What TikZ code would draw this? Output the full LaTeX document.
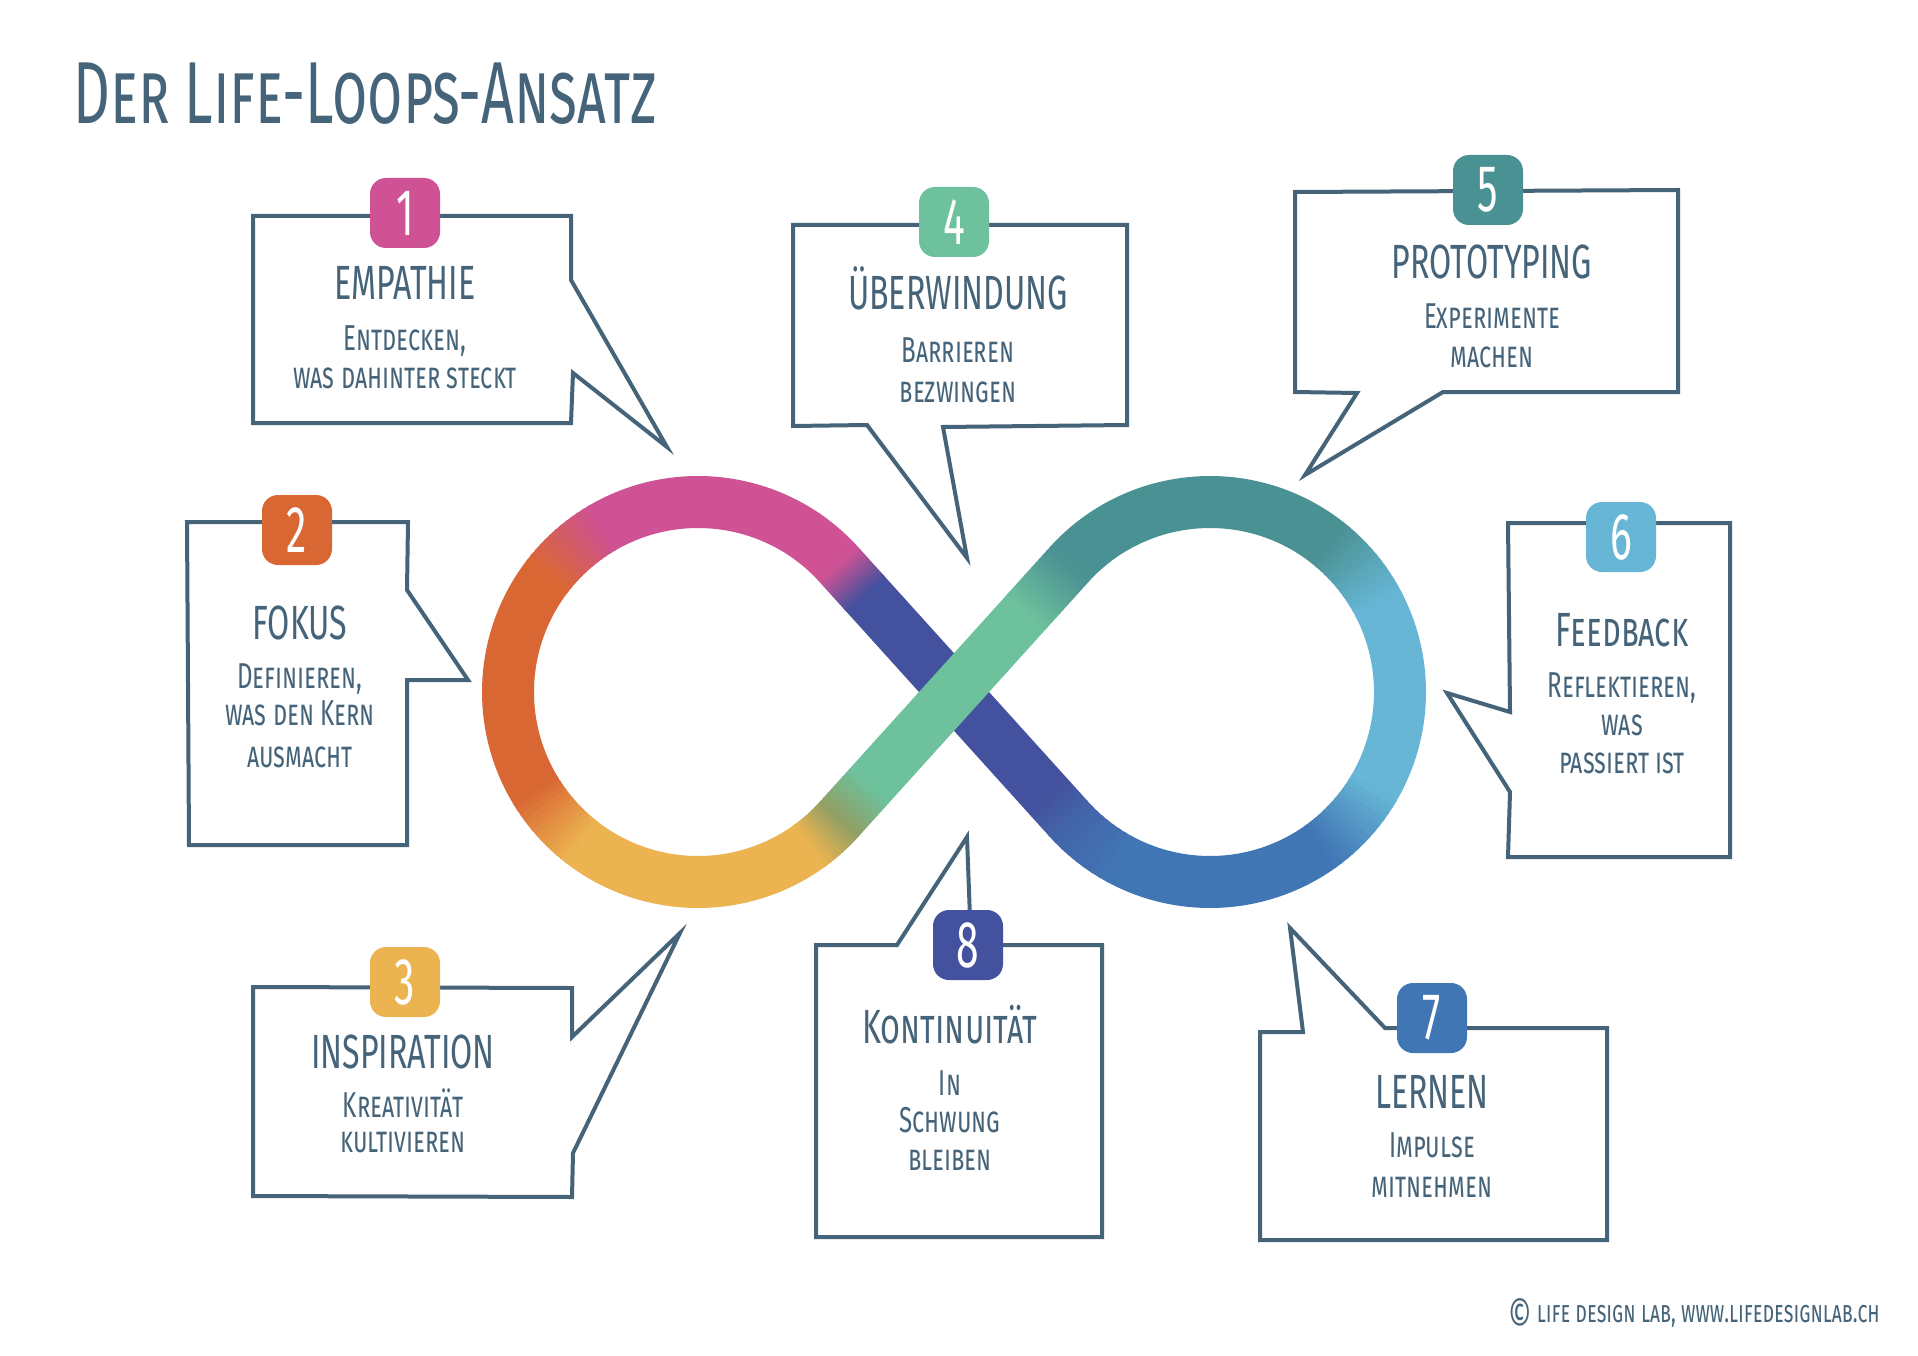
\documentclass[tikz,border=0pt]{standalone}
\usepackage{fontspec}
\setmainfont{Fira Sans}[FakeStretch=0.62]
\newfontfamily\titlefont{Fira Sans}[FakeStretch=0.65]
\newfontfamily\headfont{Fira Sans}[FakeStretch=0.67]
\newfontfamily\subfont{Fira Sans}[FakeStretch=0.67]
\newfontfamily\footfont{Fira Sans}[FakeStretch=0.66]
\usetikzlibrary{calc}
\definecolor{ink}{HTML}{45647A}
\definecolor{cPink}{HTML}{CE5294}
\definecolor{cOrange}{HTML}{D96734}
\definecolor{cYellow}{HTML}{ECB450}
\definecolor{cGreen}{HTML}{6DC19C}
\definecolor{cTeal}{HTML}{4A9193}
\definecolor{cLight}{HTML}{67B6D6}
\definecolor{cBlue}{HTML}{4176B5}
\definecolor{cIndigo}{HTML}{44519E}
\colorlet{cBM}{cBlue!50!cIndigo}
\colorlet{cYG}{cYellow!50!cGreen!85!black}
\newcommand{\ArcGrad}[7]{%
  \foreach \k in {1,...,#7}{%
    \pgfmathsetmacro\myA{#3+(#4-#3)*(\k-1)/#7}%
    \pgfmathsetmacro\myB{#3+(#4-#3)*\k/#7+((#4>#3)?0.8:-0.8)}%
    \pgfmathtruncatemacro\pp{100*(\k-0.5)/#7}%
    \draw[band, draw=#6!\pp!#5] (#1) ++(\myA:#2) arc[start angle=\myA, end angle=\myB, radius=#2];
  }}
\newcommand{\LineGrad}[5]{%
  \foreach \k in {1,...,#5}{%
    \pgfmathsetmacro\myA{(\k-1)/#5}%
    \pgfmathsetmacro\myB{\k/#5+0.02}%
    \pgfmathtruncatemacro\pp{100*(\k-0.5)/#5}%
    \draw[band, draw=#4!\pp!#3] ($(#1)!\myA!(#2)$) -- ($(#1)!\myB!(#2)$);
  }}
\begin{document}
\begin{tikzpicture}[x=1pt,y=-1pt,
  band/.style={line width=52pt, line cap=butt},
  bubble/.style={draw=ink, line width=4pt, line join=miter, fill=white},
  badge/.style={rectangle, rounded corners=16pt, minimum width=70pt, minimum height=70pt, inner sep=0pt, text=white, font=\fontsize{66}{66}\selectfont},
  head/.style={text=ink, inner sep=0pt, text height=33pt, text depth=0pt, font=\headfont\fontsize{48}{52}\selectfont},
  headsc/.style={head, font=\headfont\fontsize{48}{52}\selectfont\scshape},
  sub/.style={text=ink, inner sep=0pt, text height=21pt, text depth=0pt, font=\subfont\fontsize{36}{40}\selectfont\scshape},
]
\fill[white] (0,0) rectangle (1918,1356);
\useasboundingbox (0,0) rectangle (1918,1356);

% title
\node[text=ink, anchor=west, inner sep=0pt, text height=60pt, text depth=0pt, font=\titlefont\fontsize{88}{94}\selectfont\scshape] (title) at (73,94) {Der Life-Loops-Ansatz};

% infinity
\coordinate (Lc) at (698,692);
\coordinate (Rc) at (1210,692);
\coordinate (T1) at (839,564.7);
\coordinate (T2) at (839,819.3);
\coordinate (T3) at (1069,564.7);
\coordinate (T4) at (1069,819.3);
\coordinate (P1) at ($(T4)!30pt!(T1)$);
\coordinate (P2) at ($(T1)!40pt!(T4)$);
\coordinate (Q1) at ($(T2)!45pt!(T3)$);
\coordinate (Q2) at ($(T3)!65pt!(T2)$);

\ArcGrad{Rc}{190}{222.08}{308}{cTeal}{cTeal}{1}
\ArcGrad{Rc}{190}{308}{332}{cTeal}{cLight}{12}
\ArcGrad{Rc}{190}{332}{390}{cLight}{cLight}{1}
\ArcGrad{Rc}{190}{390}{414}{cLight}{cBlue}{12}
\ArcGrad{Rc}{190}{414}{478}{cBlue}{cBlue}{1}
\ArcGrad{Rc}{190}{478}{497.92}{cBlue}{cBM}{8}
\LineGrad{T4}{P1}{cBM}{cIndigo}{8}
\LineGrad{P1}{P2}{cIndigo}{cIndigo}{1}
\LineGrad{P2}{T1}{cIndigo}{cPink}{12}
\ArcGrad{Lc}{190}{317.92}{240}{cPink}{cPink}{1}
\ArcGrad{Lc}{190}{240}{218}{cPink}{cOrange}{12}
\ArcGrad{Lc}{190}{218}{149}{cOrange}{cOrange}{1}
\ArcGrad{Lc}{190}{149}{128}{cOrange}{cYellow}{12}
\ArcGrad{Lc}{190}{128}{54}{cYellow}{cYellow}{1}
\ArcGrad{Lc}{190}{54}{42.08}{cYellow}{cYG}{8}
\LineGrad{T2}{Q1}{cYG}{cGreen}{8}
\LineGrad{Q1}{Q2}{cGreen}{cGreen}{1}
\LineGrad{Q2}{T3}{cGreen}{cTeal}{12}

% bubbles
\draw[bubble] (253,216) -- (571,216) -- (571,280) -- (667,447) -- (573,373) -- (571,423) -- (253,423) -- cycle;
\draw[bubble] (187,522) -- (408,522) -- (407,590) -- (468,680) -- (407,680) -- (407,845) -- (189,845) -- cycle;
\draw[bubble] (253,987) -- (572,988) -- (572,1037) -- (680,933) -- (573,1153) -- (572,1197) -- (253,1196) -- cycle;
\draw[bubble] (793,225) -- (1127,225) -- (1127,425) -- (943,427) -- (967,558) -- (867,425) -- (793,426) -- cycle;
\draw[bubble] (1295,192) -- (1678,190) -- (1678,392) -- (1443,392) -- (1305,475) -- (1357,393) -- (1295,392) -- cycle;
\draw[bubble] (1508,523) -- (1730,523) -- (1730,857) -- (1508,857) -- (1510,792) -- (1447,693) -- (1510,712) -- cycle;
\draw[bubble] (1260,1032) -- (1303,1032) -- (1290,928) -- (1385,1028) -- (1607,1028) -- (1607,1240) -- (1260,1240) -- cycle;
\draw[bubble] (816,945) -- (897,945) -- (967,837) -- (971,945) -- (1102,945) -- (1102,1237) -- (816,1237) -- cycle;

% badges
\node[badge, fill=cPink] (b1) at (405,213) {1};
\node[badge, fill=cOrange] (b2) at (297,530) {2};
\node[badge, fill=cYellow] (b3) at (405,982) {3};
\node[badge, fill=cGreen] (b4) at (954,222) {4};
\node[badge, fill=cTeal] (b5) at (1488,190) {5};
\node[badge, fill=cLight] (b6) at (1621,537) {6};
\node[badge, fill=cBlue] (b7) at (1432,1018) {7};
\node[badge, fill=cIndigo] (b8) at (968,945) {8};

% headings
\node[head] (h1) at (405,283) {EMPATHIE};
\node[head] (h2) at (300,623) {FOKUS};
\node[head] (h3) at (403,1052) {INSPIRATION};
\node[head] (h4) at (958,293) {ÜBERWINDUNG};
\node[head] (h5) at (1492,262) {PROTOTYPING};
\node[headsc] (h6) at (1622,630) {Feedback};
\node[head] (h7) at (1432,1092) {LERNEN};
\node[headsc] (h8) at (950,1027) {Kontinuität};

% sub lines
\node[sub] (s1a) at (405,340) {Entdecken,};
\node[sub] (s1b) at (405,378) {was dahinter steckt};
\node[sub] (s2a) at (300,678) {Definieren,};
\node[sub] (s2b) at (300,715) {was den Kern};
\node[sub] (s2c) at (300,757) {ausmacht};
\node[sub] (s3a) at (403,1107) {Kreativität};
\node[sub] (s3b) at (403,1142) {kultivieren};
\node[sub] (s4a) at (958,352) {Barrieren};
\node[sub] (s4b) at (958,392) {bezwingen};
\node[sub] (s5a) at (1492,318) {Experimente};
\node[sub] (s5b) at (1492,357) {machen};
\node[sub] (s6a) at (1622,687) {Reflektieren,};
\node[sub] (s6b) at (1622,725) {was};
\node[sub] (s6c) at (1622,763) {passiert ist};
\node[sub] (s7a) at (1432,1147) {Impulse};
\node[sub] (s7b) at (1432,1187) {mitnehmen};
\node[sub] (s8a) at (950,1085) {In};
\node[sub] (s8b) at (950,1122) {Schwung};
\node[sub] (s8c) at (950,1160) {bleiben};

% footer
\node[text=ink, anchor=east, inner sep=0pt, text height=21pt, text depth=0pt, font=\footfont\fontsize{30}{32}\selectfont\scshape] (foot) at (1880,1312) {{\fontsize{44}{44}\selectfont\raisebox{-0.2em}{©}} life design lab, www.lifedesignlab.ch};
\end{tikzpicture}
\end{document}
